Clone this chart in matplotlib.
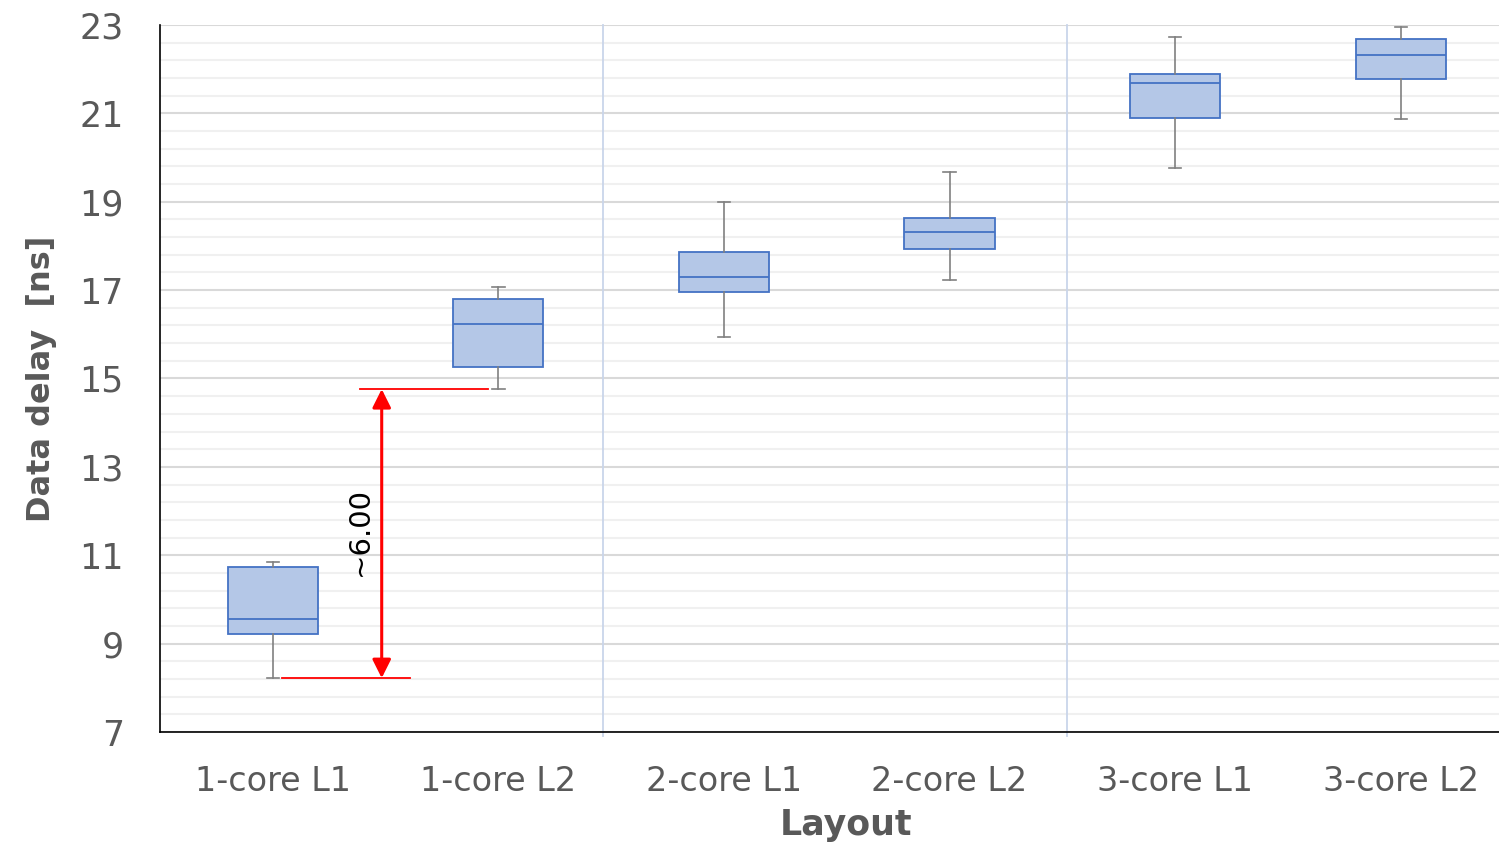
import numpy as np
import matplotlib
matplotlib.use('Agg')
import matplotlib.pyplot as plt
from matplotlib.ticker import FixedLocator

plt.rcParams['font.family'] = ['DejaVu Sans']

# five-number summaries per layout [ns]
layouts = ['1-core L1', '1-core L2', '2-core L1', '2-core L2', '3-core L1', '3-core L2']
whisker_lo = [8.22, 14.76, 15.94, 17.23, 19.76, 20.87]
q1 = [9.22, 15.26, 16.96, 17.94, 20.89, 21.78]
median = [9.56, 16.23, 17.29, 18.32, 21.69, 22.32]
q3 = [10.73, 16.80, 17.86, 18.63, 21.90, 22.68]
whisker_hi = [10.85, 17.07, 19.00, 19.67, 22.73, 22.95]

gap_label = '~6.00'

GRAY = '#595959'
BLUE = '#4472c4'

fig = plt.figure(figsize=(14.99, 8.44), dpi=100)
ax = fig.add_axes([0.1067, 0.1327, 0.903, 0.8377])

stats = []
for i, name in enumerate(layouts):
    stats.append({'label': name, 'whislo': whisker_lo[i], 'q1': q1[i], 'med': median[i],
                  'q3': q3[i], 'whishi': whisker_hi[i], 'fliers': []})

ax.bxp(stats, positions=np.arange(len(layouts)), widths=0.4, capwidths=0.055,
       patch_artist=True, showfliers=False, zorder=3,
       boxprops=dict(facecolor='#b4c7e7', edgecolor=BLUE, linewidth=1.3),
       medianprops=dict(color=BLUE, linewidth=1.3),
       whiskerprops=dict(color='#808080', linewidth=1.2),
       capprops=dict(color='#808080', linewidth=1.2))

ax.set_xlim(-0.5, 5.5)
ax.set_ylim(7, 23)
ax.yaxis.set_major_locator(FixedLocator(np.arange(7, 23.5, 2)))
ax.yaxis.set_minor_locator(FixedLocator(np.arange(7, 23.1, 0.4)))
ax.grid(axis='y', which='major', color='#d9d9d9', linewidth=1.5, zorder=0)
ax.grid(axis='y', which='minor', color='#f0f0f0', linewidth=1.5, zorder=0)
ax.set_axisbelow(True)

# group separators
for xs in (1.462, 3.522):
    ax.axvline(xs, color='#c9d5ea', linewidth=1.3, zorder=1, ymin=-0.005, clip_on=False)

for s in ('top', 'right'):
    ax.spines[s].set_visible(False)
ax.spines['left'].set_color('black')
ax.spines['bottom'].set_color('black')
ax.spines['left'].set_linewidth(1.2)
ax.spines['bottom'].set_linewidth(1.2)

ax.tick_params(axis='both', which='both', length=0)
ax.tick_params(axis='y', labelsize=25, labelcolor=GRAY, pad=26)
ax.tick_params(axis='x', labelsize=24, labelcolor=GRAY, pad=24)
ax.set_xticks(np.arange(len(layouts)))
ax.set_xticklabels(layouts)

ax.set_ylabel('Data delay  [ns]', fontsize=23, fontweight='bold', color=GRAY, labelpad=16)
ax.set_xlabel('Layout', fontsize=25, fontweight='bold', color=GRAY, labelpad=6)
ax.xaxis.set_label_coords(0.507, -0.108)

# gap between 1-core L1 low whisker and 1-core L2 low whisker
y_top = whisker_lo[1]
y_bot = whisker_lo[0]
ax.plot([0.385, 0.954], [y_top, y_top], color='red', linewidth=1.3, zorder=4)
ax.plot([0.04, 0.61], [y_bot, y_bot], color='red', linewidth=1.3, zorder=4)
ax.annotate('', xy=(0.483, y_bot), xytext=(0.483, y_top),
            arrowprops=dict(arrowstyle='<|-|>', color='red', lw=2.2,
                            mutation_scale=28, shrinkA=0, shrinkB=0), zorder=5)
ax.text(0.385, (y_top + y_bot) / 2 + 0.05, gap_label, rotation=90, fontsize=21,
        ha='center', va='center', color='black', zorder=5)

fig.savefig('out.png', dpi=100)
